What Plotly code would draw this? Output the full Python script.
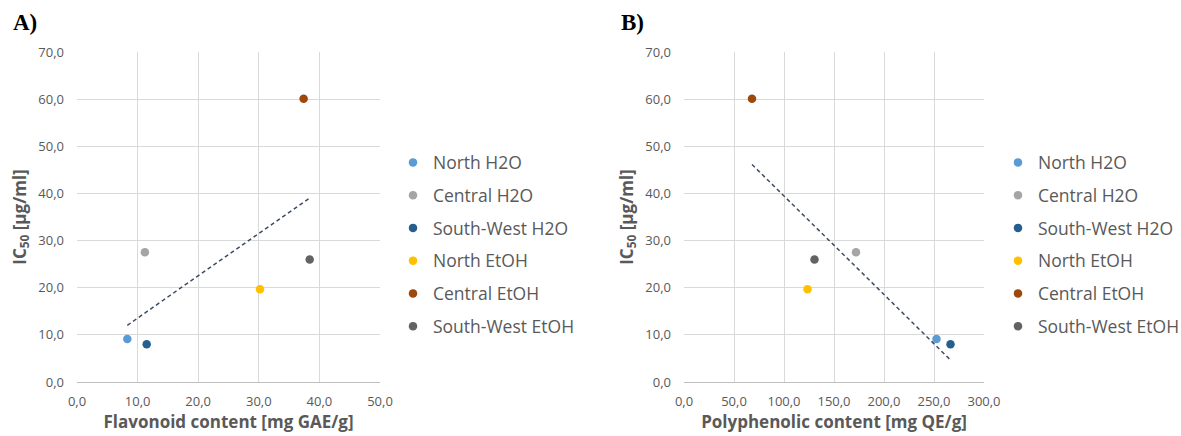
import numpy as np
import plotly.graph_objects as go

# ---------------- data ----------------
series_names = ["North H2O", "Central H2O", "South-West H2O", "North EtOH", "Central EtOH", "South-West EtOH"]
series_colors = ["#5B9BD5", "#A5A5A5", "#255E91", "#FFC000", "#9E480E", "#636363"]
ic50 = [9.1, 27.5, 8.0, 19.7, 60.1, 26.0]
flavonoid = [8.3, 11.2, 11.5, 30.2, 37.4, 38.4]
polyphenolic = [252.5, 172.0, 266.5, 123.5, 68.0, 130.5]

panel_labels = ["A)", "B)"]
x_titles = ["Flavonoid content [mg GAE/g]", "Polyphenolic content [mg QE/g]"]
y_title = "IC<sub>50</sub> [µg/ml]"
x_ranges = [[0, 50], [0, 300]]
x_dticks = [10, 50]
y_range = [0, 70]
y_dtick = 10

TXT = "#595959"
GRID = "#D9D9D9"
FONT = "Open Sans, Noto Sans, sans-serif"

fig = go.Figure()

xs_list = [flavonoid, polyphenolic]
for p, xs in enumerate(xs_list):
    xa = "x" if p == 0 else "x2"
    ya = "y" if p == 0 else "y2"
    lg = "legend" if p == 0 else "legend2"
    for i, name in enumerate(series_names):
        fig.add_trace(go.Scatter(
            x=[xs[i]], y=[ic50[i]], mode="markers", name=name,
            marker=dict(color=series_colors[i], size=8.5),
            xaxis=xa, yaxis=ya, legend=lg, legendgroup=f"{p}-{i}",
        ))
    # linear trendline (least squares, as in the spreadsheet)
    slope, inter = np.polyfit(xs, ic50, 1)
    tx = np.array([min(xs), max(xs)])
    fig.add_trace(go.Scatter(
        x=tx, y=slope * tx + inter, mode="lines", showlegend=False,
        line=dict(color="#3E4C63", width=1.5, dash="4px,3px"),
        xaxis=xa, yaxis=ya, hoverinfo="skip",
    ))

W, H = 1181, 436
plot_top, plot_bot = 52, 382
xdoms = [[77 / W, 380 / W], [684 / W, 984 / W]]
ydom = [1 - plot_bot / H, 1 - plot_top / H]

common_x = dict(showgrid=True, gridcolor=GRID, gridwidth=1, zeroline=False,
                showline=True, linecolor="#BFBFBF", linewidth=1, ticks="",
                automargin=False,
                tickformat=".1f", tickfont=dict(family=FONT, size=13, color=TXT),
                ticklabelstandoff=7)
common_y = dict(showgrid=True, gridcolor=GRID, gridwidth=1, zeroline=False,
                showline=False, ticks="", range=y_range, dtick=y_dtick,
                automargin=False,
                tickformat=".1f", tickfont=dict(family=FONT, size=13, color=TXT),
                ticklabelstandoff=12)

layout_axes = {}
for p in range(2):
    sx = "" if p == 0 else "2"
    layout_axes[f"xaxis{sx}"] = dict(
        common_x, domain=xdoms[p], range=x_ranges[p], dtick=x_dticks[p],
        anchor=f"y{sx}",
        title=dict(text=f"<b>{x_titles[p]}</b>", font=dict(family=FONT, size=17, color=TXT), standoff=4),
    )
    layout_axes[f"yaxis{sx}"] = dict(
        common_y, domain=ydom, anchor=f"x{sx}",
        title=dict(text=f"<b>{y_title}</b>", font=dict(family=FONT, size=17, color=TXT), standoff=7),
    )

legend_common = dict(font=dict(family=FONT, size=17.5, color=TXT), bgcolor="rgba(0,0,0,0)",
                     yanchor="middle", y=1 - 244.5 / H, xanchor="left", tracegroupgap=7,
                     itemclick=False, itemdoubleclick=False)

fig.update_layout(
    width=W, height=H, autosize=False,
    margin=dict(l=0, r=0, t=0, b=0, autoexpand=False),
    paper_bgcolor="white", plot_bgcolor="white",
    separators=", ",
    showlegend=True,
    legend=dict(legend_common, x=393 / W),
    legend2=dict(legend_common, x=998 / W),
    **layout_axes,
)

for p, lab in enumerate(panel_labels):
    fig.add_annotation(
        text=f"<b>{lab}</b>", xref="paper", yref="paper",
        x=(11 if p == 0 else 619) / W, y=1 - 22 / H, xanchor="left", yanchor="middle",
        showarrow=False, font=dict(family="Liberation Serif, Times New Roman, serif", size=23, color="black"),
    )

fig.write_html("out.html", config={"displayModeBar": False},
               post_script="document.body.style.margin='0';document.body.style.padding='0';")
